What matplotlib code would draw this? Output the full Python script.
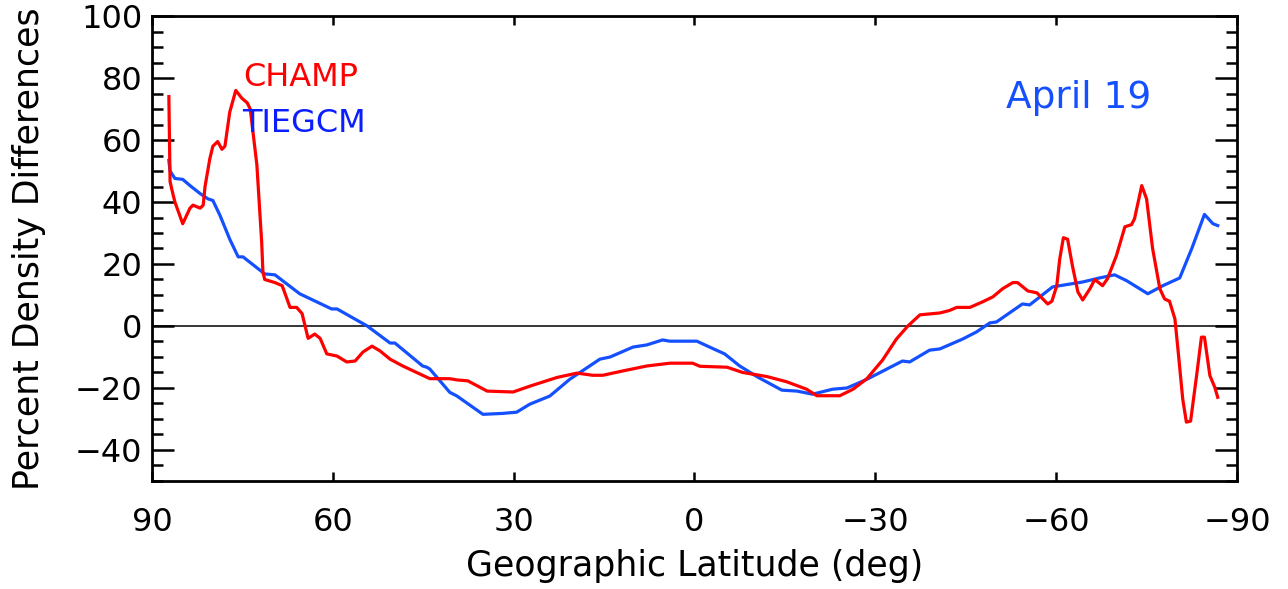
import matplotlib
matplotlib.use("Agg")
import matplotlib.pyplot as plt
from matplotlib.ticker import MultipleLocator

# ---------------- data ----------------
champ_lat = [87.2, 87.0, 86.7, 86.2, 84.9, 83.7, 83.2, 82.0, 81.5, 81.2, 80.4, 79.9,
             79.1, 78.4, 77.9, 77.1, 76.1, 75.1, 74.2, 73.7, 72.6, 71.8, 71.6, 71.3,
             69.6, 68.4, 67.6, 67.1, 66.0, 65.1, 64.6, 64.1, 63.0, 62.1, 61.0, 59.3,
             57.7, 56.3, 55.0, 53.5, 52.2, 50.5, 48.4, 46.1, 43.9, 40.6, 39.4, 37.6,
             34.4, 30.1, 27.3, 22.8, 19.5, 16.9, 15.2, 11.9, 7.9, 4.1, 0.3, -0.9,
             -5.4, -8.0, -12.0, -15.3, -18.6, -20.3, -24.1, -26.3, -28.6, -31.2, -33.5,
             -35.4, -37.4, -40.7, -42.3, -43.5, -45.7, -47.8, -49.5, -51.1, -52.8,
             -53.6, -55.3, -56.8, -58.6, -59.3, -60.1, -60.6, -61.2, -61.9, -62.7,
             -63.6, -64.4, -65.6, -66.4, -67.7, -68.5, -70.0, -71.4, -72.5, -73.0,
             -74.2, -75.0, -76.0, -77.2, -78.0, -78.8, -79.7, -80.2, -81.0, -81.6,
             -82.3, -83.3, -84.1, -84.6, -85.5, -86.3, -86.8]
champ_val = [74, 46.6, 44, 40, 33, 38, 39, 38, 39, 45, 54, 58,
             59.5, 57, 58, 69, 76, 73.5, 72, 70, 52, 27, 17.5, 15,
             14, 13, 8.7, 6, 6, 4, 0, -4, -2.6, -4, -9, -9.7,
             -11.6, -11.3, -8.4, -6.5, -8, -10.7, -12.9, -15, -17, -17, -17.4, -17.7,
             -21, -21.3, -19.4, -16.6, -15.2, -15.9, -15.9, -14.5, -12.9, -12, -12, -13,
             -13.3, -15, -16.3, -18, -20.4, -22.5, -22.5, -20.4, -17, -11, -4.2,
             0, 3.6, 4.2, 5, 6, 6, 7.8, 9.4, 12, 14,
             14, 11.3, 10.7, 7.1, 8, 13, 21.7, 28.5, 28, 19.4,
             11, 8.4, 12, 15, 13, 15.2, 22.7, 32, 32.7, 34.6,
             45.3, 41, 25, 12, 8.7, 8, 2.3, -7.4, -23.6, -31,
             -30.7, -16, -3.6, -3.6, -16, -19.7, -23]

tiegcm_lat = [87.2, 87.0, 86.2, 84.9, 83.7, 82.0, 80.7, 79.9, 78.7, 77.1, 75.7, 74.9,
              71.3, 69.6, 65.5, 60.2, 59.3, 54.3, 50.5, 49.7, 45.1, 44.4, 43.9, 40.6,
              39.4, 35.1, 31.8, 29.5, 27.3, 24.0, 20.7, 15.7, 14.0, 10.2, 7.9, 5.3,
              4.1, -0.4, -2.5, -5.0, -7.5, -10.5, -14.5, -17.0, -19.6, -22.9, -25.3,
              -28.6, -31.9, -34.5, -35.7, -39.0, -40.7, -44.5, -46.8, -49.0, -50.1,
              -54.4, -55.6, -59.4, -60.6, -64.4, -67.2, -69.7, -71.7, -75.2, -77.7,
              -80.5, -82.5, -84.6, -86.0, -86.8]
tiegcm_val = [53.4, 50, 47.6, 47.3, 45.3, 42.7, 41, 40.5, 35.6, 28, 22.3, 22.3,
              16.8, 16.5, 10.4, 5.5, 5.5, 0, -5.5, -5.5, -12.9, -13.3, -13.9, -21.4,
              -22.6, -28.5, -28.2, -27.8, -25.2, -22.6, -17.2, -10.7, -10, -6.8, -6.1, -4.5,
              -4.9, -4.9, -6.8, -9, -12.9, -16.5, -20.7, -21, -22, -20.4, -20,
              -17.2, -13.9, -11.3, -11.6, -7.8, -7.4, -4.2, -1.9, 1, 1.3,
              7.1, 6.8, 12.6, 13, 14.2, 15.5, 16.5, 14.6, 10.4, 13,
              15.5, 25, 36, 33, 32.4]

xticks = [90, 60, 30, 0, -30, -60, -90]
xticklabels = ["90", "60", "30", "0", "\u221230", "\u221260", "\u221290"]
yticks = [-40, -20, 0, 20, 40, 60, 80, 100]
yticklabels = ["\u221240", "\u221220", "0", "20", "40", "60", "80", "100"]

RED = "#ff0000"
BLUE_LINE = "#1450ff"
BLUE_TEXT = "#0a1eff"

plt.rcParams['font.family'] = ['DejaVu Sans']

fig = plt.figure(figsize=(12.88, 5.89), dpi=100)
ax = fig.add_axes([0.118, 0.1834, 0.8424, 0.7894])

ax.axhline(0, color="black", lw=1.1, zorder=1)
ax.plot(champ_lat, champ_val, color=RED, lw=2.3, zorder=3)
ax.plot(tiegcm_lat, tiegcm_val, color=BLUE_LINE, lw=2.3, zorder=2)

ax.set_xlim(90, -90)
ax.set_ylim(-50, 100)

ax.set_xticks(xticks)
ax.set_xticklabels(xticklabels)
ax.set_yticks(yticks)
ax.set_yticklabels(yticklabels)
ax.yaxis.set_minor_locator(MultipleLocator(5))

ax.tick_params(axis="x", which="major", direction="in", length=6.5, width=1.8,
               top=True, bottom=True, labelsize=23, pad=19)
ax.tick_params(axis="y", which="major", direction="in", length=16, width=1.8,
               left=True, right=True, labelsize=23, pad=7)
ax.tick_params(axis="y", which="minor", direction="in", length=8, width=1.8,
               left=True, right=True)

for s in ax.spines.values():
    s.set_linewidth(2.0)

ax.set_xlabel("Geographic Latitude (deg)", fontsize=25, labelpad=8)
ax.set_ylabel("Percent Density Differences", fontsize=25)
ax.yaxis.set_label_coords(-0.098, 0.5)

ax.text(74.9, 77.3, "CHAMP", color=RED, fontsize=23, ha="left", va="baseline")
ax.text(75.1, 62.5, "TIEGCM", color=BLUE_TEXT, fontsize=23, ha="left", va="baseline")
ax.text(-63.7, 70.2, "April 19", color=BLUE_LINE, fontsize=27, ha="center", va="baseline")

fig.savefig("out.png", dpi=100)
